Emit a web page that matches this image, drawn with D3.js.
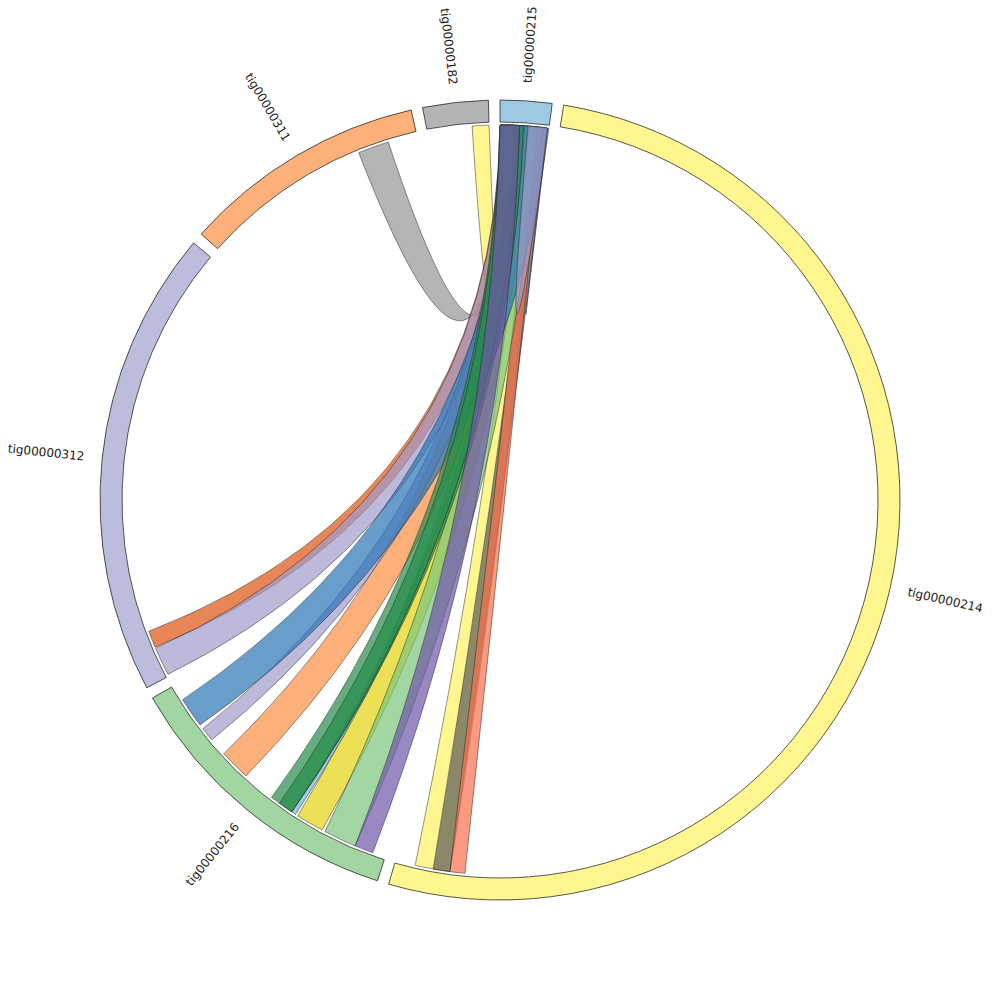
<!DOCTYPE html>
<html>
<head>
<meta charset="utf-8">
<script src="https://cdn.jsdelivr.net/npm/d3@7"></script>
<style>
  body { margin: 0; background: #fff; }
</style>
</head>
<body>
<div id="chart"></div>
<script>
// Contigs, clockwise from the top (lengths in kb)
const contigs = ["tig00000215", "tig00000214", "tig00000216", "tig00000312", "tig00000311", "tig00000182"];
const contigLengths = [75, 1870, 425, 680, 355, 95];
const contigColors = ["#9dcae2", "#fff68f", "#a1d6a2", "#bcbcdc", "#fdb07a", "#b4b4b4"];

// Links: [contig, start kb, end kb] on each side, drawn in this order
const linkFrom = [
  ["tig00000311", 262, 310],
  ["tig00000182", 69, 95],
  ["tig00000215", 46, 58],
  ["tig00000215", 62, 72],
  ["tig00000215", 54, 66],
  ["tig00000215", 0, 20],
  ["tig00000215", 2, 28],
  ["tig00000215", 12, 42],
  ["tig00000215", 20, 45],
  ["tig00000215", 28, 58],
  ["tig00000215", 30, 38],
  ["tig00000215", 8, 30],
  ["tig00000215", 25, 72],
  ["tig00000215", 0, 36],
  ["tig00000215", 0, 30],
  ["tig00000215", 0, 30],
  ["tig00000215", 43, 73]
];
const linkTo = [
  ["tig00000215", 2, 6],
  ["tig00000215", 1, 5],
  ["tig00000214", 1785, 1839],
  ["tig00000214", 1785, 1811],
  ["tig00000214", 1762, 1785],
  ["tig00000312", 49, 75],
  ["tig00000312", 3, 47],
  ["tig00000216", 248, 296],
  ["tig00000216", 105, 148],
  ["tig00000216", 49, 100],
  ["tig00000216", 152, 159],
  ["tig00000216", 324, 346],
  ["tig00000216", 353, 400],
  ["tig00000216", 159, 197],
  ["tig00000216", 159, 182],
  ["tig00000216", 20, 49],
  ["tig00000215", 73, 75]
];
const linkColors = [
  "#969696", "#fff25f", "#fff25f", "#5a5a5a", "#f96f4d", "#e0530f",
  "#9f9bca", "#fc8e41", "#e2d30e", "#7bc47b", "#75b4d5", "#9f9bca",
  "#2a74b5", "#258c4a", "#258c4a", "#6f55a8", "#9f9bca"
];

const width = 1000, height = 1000;
const cx = 500, cy = 500;
const outerR = 400, innerR = 378, ribbonR = 375, labelR = 418;
const gapDeg = 10 / 6;
const spread = 0.9;   // how far each edge's control point leaves the centre

const svg = d3.select("#chart").append("svg")
  .attr("width", width)
  .attr("height", height);

const g = svg.append("g")
  .attr("transform", "translate(" + cx + "," + cy + ")");

// Angle scale: kb along the whole genome -> radians, gaps added per contig
const rad = Math.PI / 180;
const totalLen = d3.sum(contigLengths);
const angleScale = d3.scaleLinear()
  .domain([0, totalLen])
  .range([0, (360 - gapDeg * contigs.length) * rad]);
const offsets = [0].concat(Array.from(d3.cumsum(contigLengths)));

function angle(name, pos) {
  const i = contigs.indexOf(name);
  return angleScale(offsets[i] + pos) + i * gapDeg * rad;
}

const segments = contigs.map((name, i) => ({
  name: name,
  color: contigColors[i],
  startAngle: angle(name, 0),
  endAngle: angle(name, contigLengths[i])
}));

// Ribbon: like d3.ribbon, but the two edges bend round slightly separated
// control points so the band keeps more of its width through the middle
function pt(a) { return [ribbonR * Math.sin(a), -ribbonR * Math.cos(a)]; }
function ribbonPath(d) {
  const s0 = d.source.startAngle, s1 = d.source.endAngle;
  const t0 = d.target.startAngle, t1 = d.target.endAngle;
  const A = pt(s0), B = pt(s1), C = pt(t0), D = pt(t1);
  const dx = 0.25 * (B[0] - A[0]) + 0.25 * (C[0] - D[0]);
  const dy = 0.25 * (B[1] - A[1]) + 0.25 * (C[1] - D[1]);
  const p = d3.path();
  p.moveTo(A[0], A[1]);
  p.arc(0, 0, ribbonR, s0 - Math.PI / 2, s1 - Math.PI / 2);
  p.quadraticCurveTo(spread * dx, spread * dy, C[0], C[1]);
  p.arc(0, 0, ribbonR, t0 - Math.PI / 2, t1 - Math.PI / 2);
  p.quadraticCurveTo(-spread * dx, -spread * dy, A[0], A[1]);
  p.closePath();
  return p.toString();
}

const links = linkFrom.map((f, i) => ({
  color: linkColors[i],
  source: {startAngle: angle(f[0], f[1]), endAngle: angle(f[0], f[2])},
  target: {startAngle: angle(linkTo[i][0], linkTo[i][1]), endAngle: angle(linkTo[i][0], linkTo[i][2])}
}));

g.append("g").selectAll("path")
  .data(links)
  .enter().append("path")
    .attr("d", ribbonPath)
    .style("fill", d => d.color)
    .style("fill-opacity", 0.7)
    .style("stroke", "#222")
    .style("stroke-opacity", 0.8)
    .style("stroke-width", 0.6);

// Contig arcs
const arc = d3.arc().innerRadius(innerR).outerRadius(outerR);
g.append("g").selectAll("path")
  .data(segments)
  .enter().append("path")
    .attr("d", arc)
    .style("fill", d => d.color)
    .style("stroke", "#111")
    .style("stroke-width", 0.7);

// Labels, radial, flipped on the left half
g.append("g").selectAll("text")
  .data(segments)
  .enter().append("text")
    .attr("transform", d => {
      const a = (d.startAngle + d.endAngle) / 2;
      const deg = a / rad;
      const x = labelR * Math.sin(a), y = -labelR * Math.cos(a);
      const rot = deg < 180 ? deg - 90 : deg + 90;
      return "translate(" + x + "," + y + ") rotate(" + rot + ")";
    })
    .attr("text-anchor", d => ((d.startAngle + d.endAngle) / 2 / rad) < 180 ? "start" : "end")
    .attr("dy", "0.35em")
    .style("font", "12px 'DejaVu Sans', sans-serif")
    .style("fill", "#222")
    .text(d => d.name);
</script>
</body>
</html>
